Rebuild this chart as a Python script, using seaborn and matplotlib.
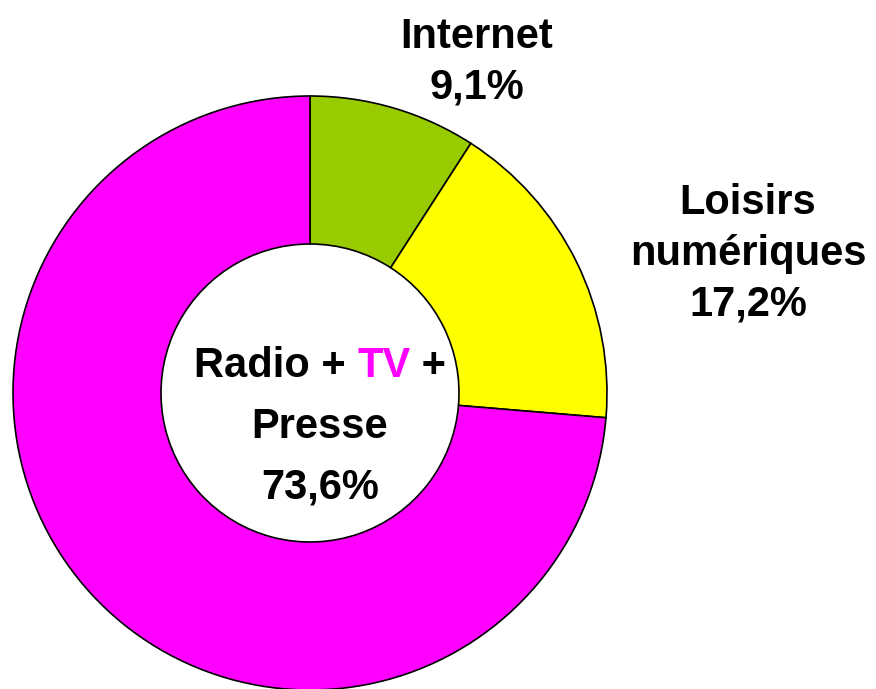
import matplotlib
matplotlib.use("Agg")
import matplotlib.pyplot as plt
from matplotlib.offsetbox import TextArea, HPacker, VPacker, AnnotationBbox
import seaborn as sns

sns.set_theme(style="white")
plt.rcParams['font.family'] = ['Liberation Sans', 'DejaVu Sans']

categories = ["Internet", "Loisirs numériques", "Radio + TV + Presse"]
shares = [9.1, 17.2, 73.6]
share_labels = ["9,1%", "17,2%", "73,6%"]
colors = ["#99CC00", "#FFFF00", "#FF00FF"]

fig = plt.figure(figsize=(8.76, 6.89), dpi=100)
ax = fig.add_axes([0, 0, 1, 1])

ax.pie(shares, colors=colors, startangle=90, counterclock=False,
       center=(310, 296), radius=297, frame=True,
       wedgeprops=dict(width=148, edgecolor="black", linewidth=1.2))
ax.set_xlim(0, 876)
ax.set_ylim(0, 689)
ax.axis("off")

fs = 30
ax.text(477, 627, categories[0] + "\n" + share_labels[0], ha="center", va="center",
        fontsize=fs, fontweight="bold", linespacing=1.35, color="black")
ax.text(748, 435, "Loisirs\nnumériques\n" + share_labels[1], ha="center", va="center",
        fontsize=fs, fontweight="bold", linespacing=1.35, color="black")

tp = dict(fontsize=fs, fontweight="bold")
line1 = HPacker(children=[TextArea("Radio + ", textprops=dict(color="black", **tp)),
                          TextArea("TV", textprops=dict(color="#FF00FF", **tp)),
                          TextArea(" +", textprops=dict(color="black", **tp))],
                align="baseline", pad=0, sep=0)
line2 = TextArea("Presse", textprops=dict(color="black", **tp))
line3 = TextArea(share_labels[2], textprops=dict(color="black", **tp))
block = VPacker(children=[line1, line2, line3], align="center", pad=0, sep=15)
ab = AnnotationBbox(block, (320, 262), frameon=False, box_alignment=(0.5, 0.5))
ax.add_artist(ab)

fig.savefig("out.png", dpi=100)
